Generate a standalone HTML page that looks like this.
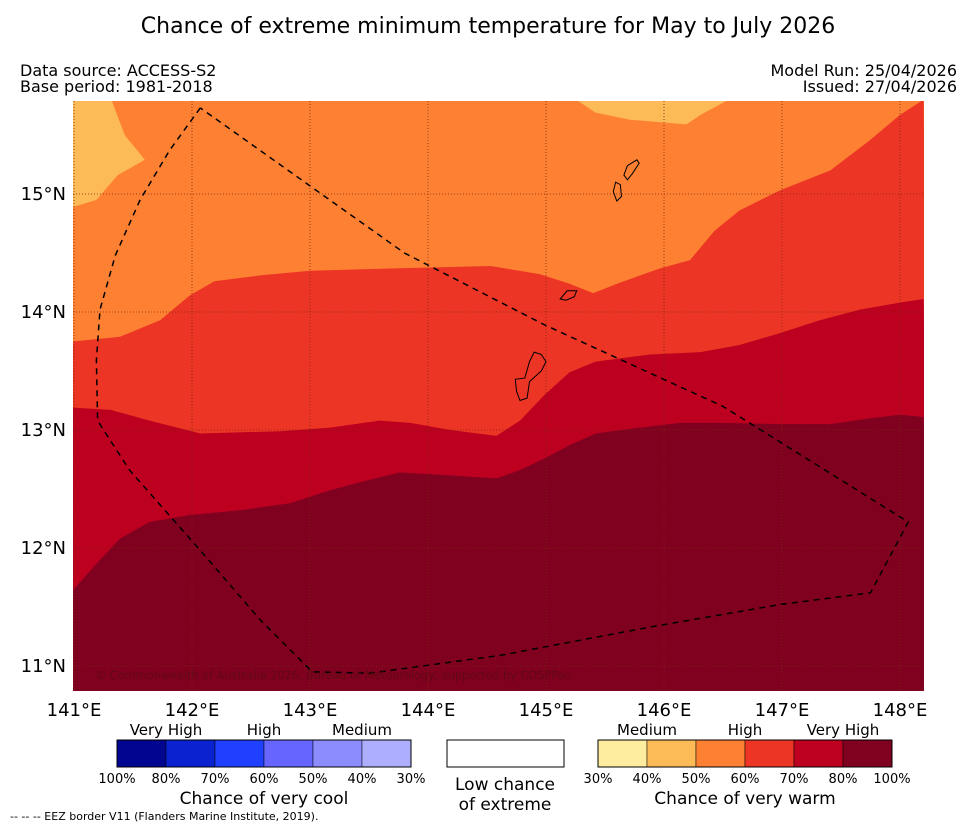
<!DOCTYPE html>
<html><head><meta charset="utf-8"><style>
body{margin:0;background:#fff;font-family:"Liberation Sans","DejaVu Sans",sans-serif}
svg text{font-family:"DejaVu Sans","Liberation Sans",sans-serif}
</style></head><body>
<svg id="c" width="977" height="827" viewBox="0 0 977 827" xmlns="http://www.w3.org/2000/svg">
<text x="488" y="33" font-size="22" text-anchor="middle">Chance of extreme minimum temperature for May to July 2026</text>
<text x="20" y="76" font-size="16">Data source: ACCESS-S2</text>
<text x="20" y="92" font-size="16">Base period: 1981-2018</text>
<text x="957" y="76" font-size="16" text-anchor="end">Model Run: 25/04/2026</text>
<text x="957" y="92" font-size="16" text-anchor="end">Issued: 27/04/2026</text>
<defs><clipPath id="mc"><rect x="73" y="101" width="851" height="590"/></clipPath></defs>
<g id="map" clip-path="url(#mc)"></g>
<g id="ax"></g>
<g id="leg"></g>
<text x="10" y="820" font-size="11">--  --  -- EEZ border V11 (Flanders Marine Institute, 2019).</text>
</svg>
<script>
const lonTicks=[141,142,143,144,145,146,147,148];
const latTicks=[11,12,13,14,15];
const bandColors=["#FE8032","#EC3524","#BD0020","#800020"];
const band6070=[[140.99,13.75],[141.39,13.79],[141.73,13.93],[141.98,14.14],[142.19,14.26],[142.58,14.31],[143.0,14.35],[143.76,14.37],[144.53,14.39],[144.95,14.32],[145.2,14.24],[145.4,14.16],[145.63,14.25],[145.97,14.37],[146.22,14.44],[146.43,14.69],[146.64,14.86],[146.98,15.03],[147.41,15.2],[147.75,15.46],[148.0,15.67],[148.2,15.8]];
const band7080=[[140.99,13.19],[141.31,13.17],[141.64,13.08],[142.07,12.97],[142.75,12.99],[143.17,13.02],[143.59,13.08],[143.85,13.06],[144.19,13.0],[144.58,12.95],[144.78,13.08],[144.99,13.3],[145.2,13.49],[145.42,13.58],[145.88,13.64],[146.31,13.66],[146.64,13.72],[146.98,13.82],[147.32,13.93],[147.66,14.02],[148.0,14.08],[148.2,14.11]];
const band80100=[[140.99,11.64],[141.22,11.9],[141.39,12.08],[141.64,12.22],[141.98,12.28],[142.41,12.32],[142.83,12.38],[143.17,12.49],[143.51,12.58],[143.76,12.64],[144.1,12.62],[144.58,12.59],[144.78,12.66],[144.99,12.76],[145.2,12.87],[145.42,12.97],[145.8,13.02],[146.14,13.06],[146.47,13.06],[146.98,13.05],[147.41,13.05],[147.75,13.1],[148.0,13.13],[148.2,13.11]];
const patchNW=[[140.99,15.79],[141.32,15.79],[141.43,15.5],[141.6,15.29],[141.37,15.16],[141.19,14.95],[140.99,14.89]];
const patchN=[[145.27,15.79],[145.42,15.69],[145.71,15.63],[146.19,15.59],[146.31,15.67],[146.53,15.79]];
const eez=[[142.07,15.73],[141.81,15.37],[141.56,14.95],[141.35,14.48],[141.22,14.02],[141.19,13.59],[141.2,13.08],[141.47,12.66],[142.07,11.98],[142.58,11.39],[143.02,10.95],[143.51,10.94],[144.61,11.09],[145.88,11.33],[146.98,11.52],[147.75,11.62],[148.07,12.22],[146.5,13.2],[144.99,13.89],[143.8,14.5],[142.07,15.73]];
const guam=[[144.9,13.66],[144.96,13.64],[145.0,13.58],[144.96,13.5],[144.86,13.41],[144.84,13.27],[144.78,13.25],[144.75,13.33],[144.74,13.43],[144.82,13.44],[144.86,13.58]];
const rota=[[145.12,14.11],[145.18,14.18],[145.26,14.18],[145.24,14.13],[145.17,14.1]];
const tinian=[[145.59,15.1],[145.63,15.08],[145.64,14.98],[145.6,14.94],[145.57,15.02]];
const saipan=[[145.69,15.24],[145.77,15.29],[145.79,15.26],[145.73,15.17],[145.69,15.12],[145.66,15.16]];
const X=lon=>74+(lon-141)*118, Y=lat=>194-(lat-15)*118;
const NS="http://www.w3.org/2000/svg";
const map=document.getElementById('map'), ax=document.getElementById('ax'), leg=document.getElementById('leg');
function el(t,a,p){const e=document.createElementNS(NS,t);for(const k in a)e.setAttribute(k,a[k]);p.appendChild(e);return e;}
function pts(a){return a.map(p=>X(p[0]).toFixed(1)+','+Y(p[1]).toFixed(1)).join(' ');}
let r=el('rect',{x:73,y:101,width:851,height:590,fill:bandColors[0]},map);


[[band6070,1,'band-60-70'],[band7080,2,'band-70-80'],[band80100,3,'band-80-100']].forEach(b=>{
 const p=el('polygon',{points:pts(b[0])+' 930,700 60,700',fill:bandColors[b[1]]},map);
 
 
});
[[patchNW,'band-40-50-nw'],[patchN,'band-40-50-n']].forEach(b=>{
 const p=el('polygon',{points:pts(b[0]),fill:'#FDBB58'},map);
 
 
});
lonTicks.forEach(l=>{const g=el('line',{x1:X(l),x2:X(l),y1:101,y2:691,stroke:'#7a2a10','stroke-width':0.8,'stroke-dasharray':'1,2'},map);
 
 
 const t=el('text',{x:X(l),y:716,'font-size':18,'text-anchor':'middle'},ax);t.textContent=l+'°E';
 
 });
latTicks.forEach(l=>{const g=el('line',{x1:73,x2:924,y1:Y(l),y2:Y(l),stroke:'#7a2a10','stroke-width':0.8,'stroke-dasharray':'1,2'},map);
 
 
 const t=el('text',{x:66,y:Y(l)+6,'font-size':18,'text-anchor':'end'},ax);t.textContent=l+'°N';
 
 });
[[guam,'guam'],[rota,'rota'],[tinian,'tinian'],[saipan,'saipan']].forEach(b=>{
 const p=el('polygon',{points:pts(b[0]),fill:'none',stroke:'#000','stroke-width':1},map);
 
 
});
const ez=el('polyline',{points:pts(eez),fill:'none',stroke:'#000','stroke-width':1.5,'stroke-dasharray':'6,5'},map);


const cp=el('text',{x:95,y:679,'font-size':11.3,fill:'#5a0a10','fill-opacity':0.8},map);cp.textContent='© Commonwealth of Australia 2026, Bureau of Meteorology, supported by COSPPac';


const coolC=["#00068f","#0a22d0","#2040ff","#6666ff","#8c8cff","#aeaeff"];
const warmC=["#FEED9F","#FDBB58","#FE8032","#EC3524","#BD0020","#800020"];
const coolL=["100%","80%","70%","60%","50%","40%","30%"];
const warmL=["30%","40%","50%","60%","70%","80%","100%"];
function bar(x0,cols,labs,name){cols.forEach((c,i)=>{const q=el('rect',{x:x0+i*49,y:740,width:49,height:27,fill:c,stroke:'#000','stroke-width':0.5},leg);
 
 });
 el('rect',{x:x0,y:740,width:294,height:27,fill:'none',stroke:'#000','stroke-width':1},leg);
 labs.forEach((l,i)=>{const t=el('text',{x:x0+i*49,y:783,'font-size':13,'text-anchor':'middle'},leg);t.textContent=l;
 
 });}
bar(117,coolC,coolL,'cool');bar(598,warmC,warmL,'warm');
const wb=el('rect',{x:447,y:740,width:117,height:27,fill:'#fff',stroke:'#000','stroke-width':1},leg);


[[166,735,'Very High',15],[264,735,'High',15],[362,735,'Medium',15],[647,735,'Medium',15],[745,735,'High',15],[843,735,'Very High',15],[264,804,'Chance of very cool',17],[745,804,'Chance of very warm',17],[505,790,'Low chance',17],[505,810,'of extreme',17]].forEach(a=>{
 const t=el('text',{x:a[0],y:a[1],'font-size':a[3],'text-anchor':'middle'},leg);t.textContent=a[2];
 
 
});
</script>
</body></html>
